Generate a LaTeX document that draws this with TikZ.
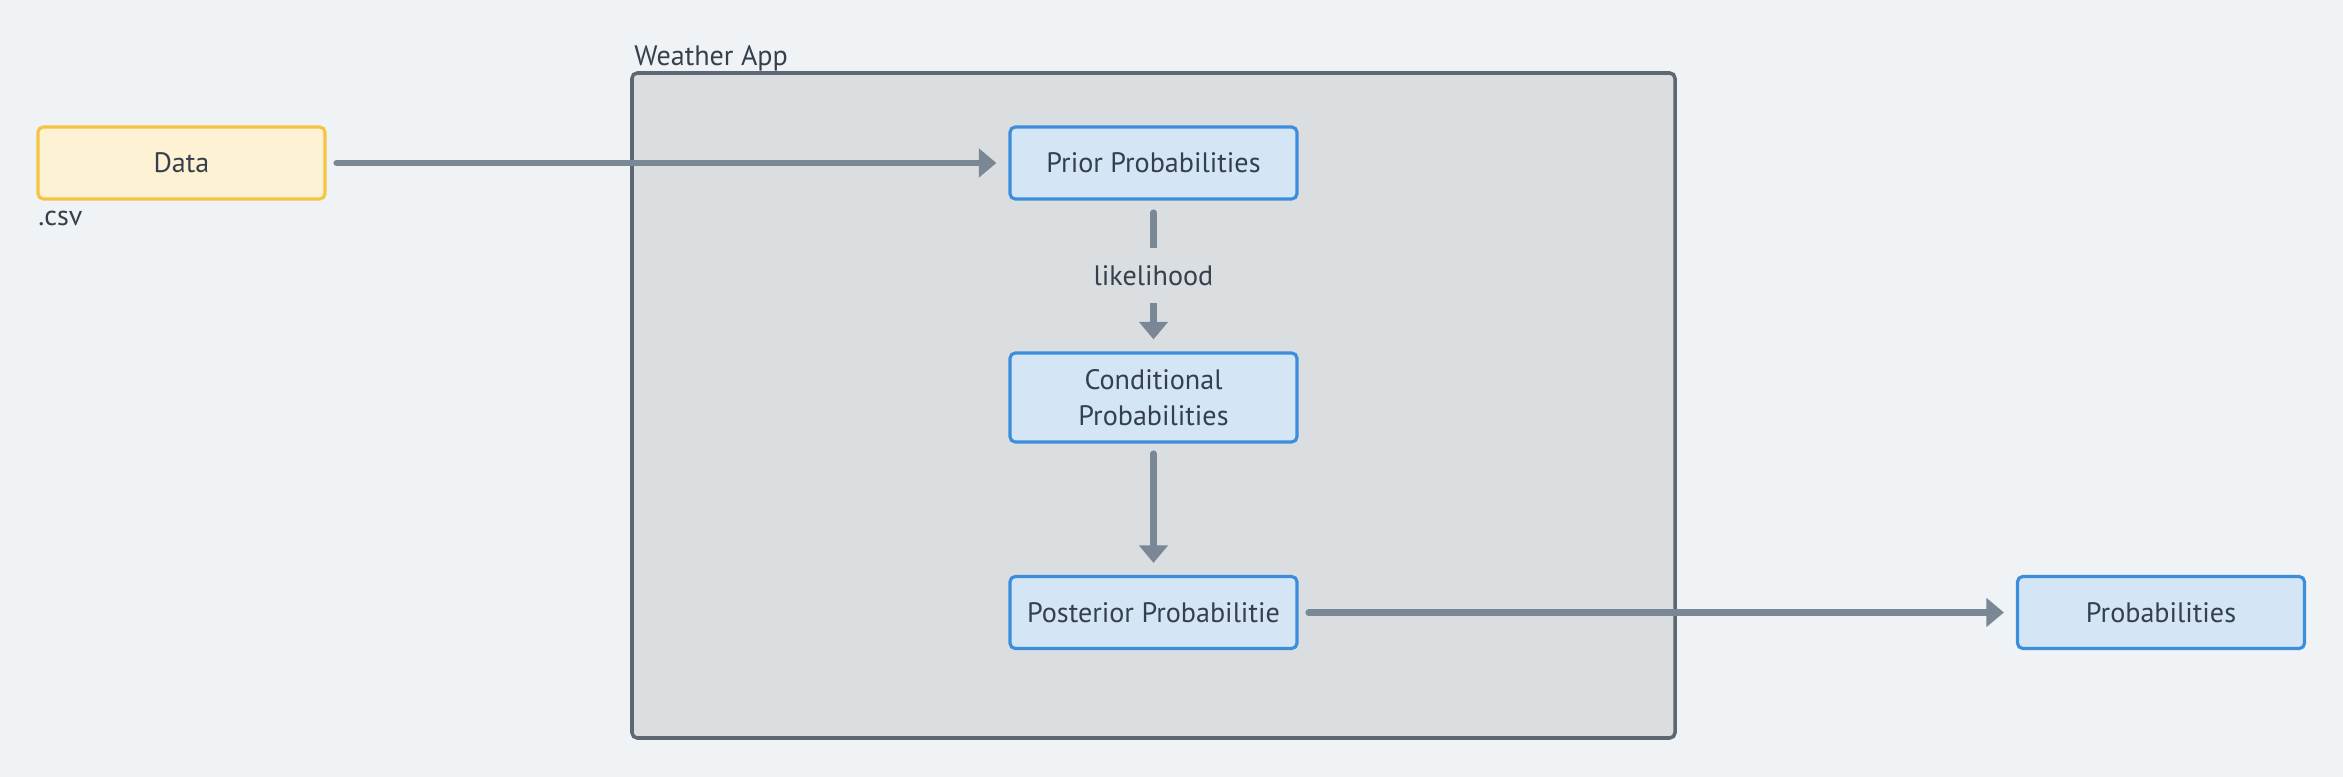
\documentclass[tikz,border=0pt]{standalone}
\usepackage{fontspec}
\setmainfont{PT Sans}
\usepackage{tikz}
\usetikzlibrary{arrows.meta}

\definecolor{bgcol}{HTML}{EFF3F6}
\definecolor{appfill}{HTML}{DADEE1}
\definecolor{appline}{HTML}{5D6873}
\definecolor{blufill}{HTML}{D4E5F5}
\definecolor{bluline}{HTML}{3C8EDB}
\definecolor{yelfill}{HTML}{FEF2D4}
\definecolor{yelline}{HTML}{F6C443}
\definecolor{conncol}{HTML}{7A8794}
\definecolor{txtcol}{HTML}{36404C}

\begin{document}
\begin{tikzpicture}[
    every node/.style={text=txtcol,font=\fontsize{8}{10.2}\selectfont},
    box/.style={draw=bluline,fill=blufill,line width=0.9pt,rounded corners=1.5pt,
      minimum width=2.87cm,minimum height=0.72cm,align=center,inner sep=0pt},
    databox/.style={box,draw=yelline,fill=yelfill},
    conn/.style={draw=conncol,line width=1.8pt,line cap=round,
      -{Triangle[length=5pt,width=8pt]},shorten <=0.1cm,shorten >=0.12cm}
  ]
  \fill[bgcol] (0,0) rectangle (23.43,-7.77);
  \useasboundingbox (0,0) rectangle (23.43,-7.77);

  \draw[appline,fill=appfill,line width=1pt,rounded corners=1.5pt]
    (6.32,-0.73) rectangle (16.75,-7.38);
  \node[anchor=west] (applbl) at (6.22,-0.58) {Weather App};

  \node[databox] (data) at (1.815,-1.63) {Data};
  \node[anchor=west] (csv) at (0.26,-2.18) {.csv};

  \node[box] (prior) at (11.535,-1.63) {Prior Probabilities};
  \node[box,minimum height=0.89cm] (cond) at (11.535,-3.975) {Conditional\\Probabilities};
  \node[box] (post) at (11.535,-6.125) {Posterior Probabilitie};
  \node[box] (prob) at (21.61,-6.125) {Probabilities};

  \draw[conn] (data) -- (prior);
  \draw[conn,shorten <=0.12cm] (prior) -- node[fill=appfill,minimum height=0.55cm,inner sep=1pt] (lik) {likelihood} (cond);
  \draw[conn] (cond) -- (post);
  \draw[conn] (post) -- (prob);
\end{tikzpicture}
\end{document}
